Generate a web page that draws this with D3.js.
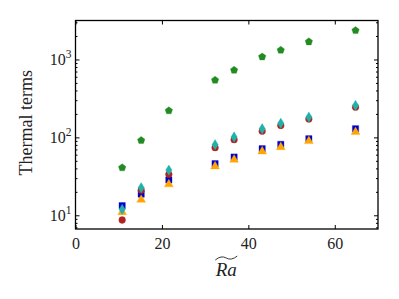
<!DOCTYPE html>
<html>
<head>
<meta charset="utf-8">
<script src="https://cdn.jsdelivr.net/npm/d3@7"></script>
<style>
    body { margin: 0; background: #fff; }
    .axis path { display: none; }
    .axis line { stroke: #000; }
</style>
</head>
<body>
<script>
// Ra values (x) shared by every series
var ra = [10.8, 15.2, 21.6, 32.3, 36.7, 43.2, 47.5, 54.0, 64.8];

// Series values
var greenVals  = [40.8, 91.5, 220, 543, 730, 1082, 1318, 1687, 2355];
var cyanVals   = [11.9, 22.6, 38.0, 80.6, 101, 129, 152, 182, 257];
var redVals    = [8.7, 21.0, 33.6, 73.8, 93.4, 120, 142, 172, 244];
var blueVals   = [13.3, 18.7, 28.4, 46.0, 55.9, 71.6, 81.3, 96.0, 129];
var orangeVals = [11.0, 15.8, 25.0, 42.5, 51.8, 66.0, 75.0, 89.7, 117];

var xTicks = [0, 20, 40, 60];
var yTicks = [10, 100, 1000];

var serif = "Liberation Serif";

window.onload = drawChart();

function drawChart(){

    var width = 399,
        height = 299;
    var margin = {left: 75.5, right: 21, top: 20.5, bottom: 70};
    var w = width - margin.left - margin.right,
        h = height - margin.top - margin.bottom;

    var svg = d3.select("body")
        .append("svg")
        .attr("width", width)
        .attr("height", height);

    var g = svg.append("g")
        .attr("transform", "translate(" + margin.left + "," + margin.top + ")");

    var x = d3.scaleLinear()
        .domain([0, 70])
        .range([0, w]);

    var y = d3.scaleLog()
        .domain([6.67, 3162])
        .range([h, 0]);

    // minor ticks for the log axis
    var minor = [];
    [1, 10, 100, 1000].forEach(function(d){
        for (var k = 2; k <= 9; k++) {
            var v = d * k;
            if (v >= 6.67 && v <= 3162) minor.push(v);
        }
    });

    // bottom & top axes (ticks pointing in)
    g.append("g").attr("class", "axis")
        .attr("transform", "translate(0," + h + ")")
        .call(d3.axisBottom(x).tickValues(xTicks).tickSizeInner(-4).tickSizeOuter(0).tickPadding(7))
        .selectAll("text")
        .style("font-family", serif)
        .style("font-size", "16px")
        .attr("fill", "#222")
        .attr("dy", "0.8em");
    g.append("g").attr("class", "axis")
        .call(d3.axisTop(x).tickValues(xTicks).tickSizeInner(-4).tickSizeOuter(0).tickFormat(""));

    // left & right axes
    g.append("g").attr("class", "axis")
        .call(d3.axisLeft(y).tickValues(yTicks).tickSizeInner(-4).tickSizeOuter(0).tickFormat(""));
    g.append("g").attr("class", "axis")
        .call(d3.axisLeft(y).tickValues(minor).tickSizeInner(-2).tickSizeOuter(0).tickFormat(""));
    g.append("g").attr("class", "axis")
        .attr("transform", "translate(" + w + ",0)")
        .call(d3.axisRight(y).tickValues(yTicks).tickSizeInner(-4).tickSizeOuter(0).tickFormat(""));
    g.append("g").attr("class", "axis")
        .attr("transform", "translate(" + w + ",0)")
        .call(d3.axisRight(y).tickValues(minor).tickSizeInner(-2).tickSizeOuter(0).tickFormat(""));

    // y tick labels as 10^n
    var yLab = g.selectAll(".ylab")
        .data(yTicks)
        .enter()
        .append("text")
        .attr("class", "ylab")
        .attr("x", -4)
        .attr("y", function(d){ return y(d) + 6; })
        .attr("text-anchor", "end")
        .attr("fill", "#222")
        .style("font-family", serif)
        .style("font-size", "16px");
    yLab.append("tspan").text("10");
    yLab.append("tspan")
        .attr("dy", -7)
        .style("font-size", "11.5px")
        .text(function(d){ return Math.round(Math.log10(d)); });

    // frame
    g.append("rect")
        .attr("width", w)
        .attr("height", h)
        .attr("fill", "none")
        .attr("stroke", "#000")
        .attr("stroke-width", 1.3);

    // pentagon symbol for the green series
    var pentagon = {
        draw: function(context, size){
            var r = Math.sqrt(size / 2.378);
            for (var i = 0; i < 5; i++) {
                var a = -Math.PI / 2 + i * 2 * Math.PI / 5;
                if (i === 0) context.moveTo(r * Math.cos(a), r * Math.sin(a));
                else context.lineTo(r * Math.cos(a), r * Math.sin(a));
            }
            context.closePath();
        }
    };
    // thin diamond like matplotlib 'd'
    var thinDiamond = {
        draw: function(context, size){
            var s = Math.sqrt(size);
            context.moveTo(0, -s * 0.62);
            context.lineTo(s * 0.38, 0);
            context.lineTo(0, s * 0.62);
            context.lineTo(-s * 0.38, 0);
            context.closePath();
        }
    };

    var series = [
        {vals: blueVals,   color: "#0000cd", sym: d3.symbolSquare,   size: 40},
        {vals: orangeVals, color: "#ffa500", sym: d3.symbolTriangle, size: 34},
        {vals: redVals,    color: "#b22222", sym: d3.symbolCircle,   size: 36},
        {vals: cyanVals,   color: "#20b2aa", sym: thinDiamond,       size: 70},
        {vals: greenVals,  color: "#228b22", sym: pentagon,          size: 36}
    ];

    series.forEach(function(s){
        var sym = d3.symbol().type(s.sym).size(s.size);
        g.selectAll(null)
            .data(s.vals)
            .enter()
            .append("path")
            .attr("d", sym)
            .attr("transform", function(d, i){
                return "translate(" + x(ra[i]) + "," + y(d) + ")";
            })
            .attr("fill", s.color)
            .attr("stroke", s.color)
            .attr("stroke-opacity", 0.4)
            .attr("stroke-width", 0.8);
    });

    // axis titles
    svg.append("text")
        .attr("transform", "translate(32," + (margin.top + h / 2 - 2) + ") rotate(-90)")
        .attr("text-anchor", "middle")
        .attr("fill", "#222")
        .style("font-family", serif)
        .style("font-size", "18px")
        .text("Thermal terms");

    var xt = svg.append("g")
        .attr("transform", "translate(" + (margin.left + w / 2 - 0.5) + ",276)");
    xt.append("text")
        .attr("text-anchor", "middle")
        .attr("fill", "#222")
        .style("font-family", serif)
        .style("font-style", "italic")
        .style("font-size", "19px")
        .text("Ra");
    xt.append("path")
        .attr("d", "M-11,-16 Q-5,-21 0,-18 Q5,-15 11,-20")
        .attr("fill", "none")
        .attr("stroke", "#222")
        .attr("stroke-width", 0.9);
}
</script>
</body>
</html>
